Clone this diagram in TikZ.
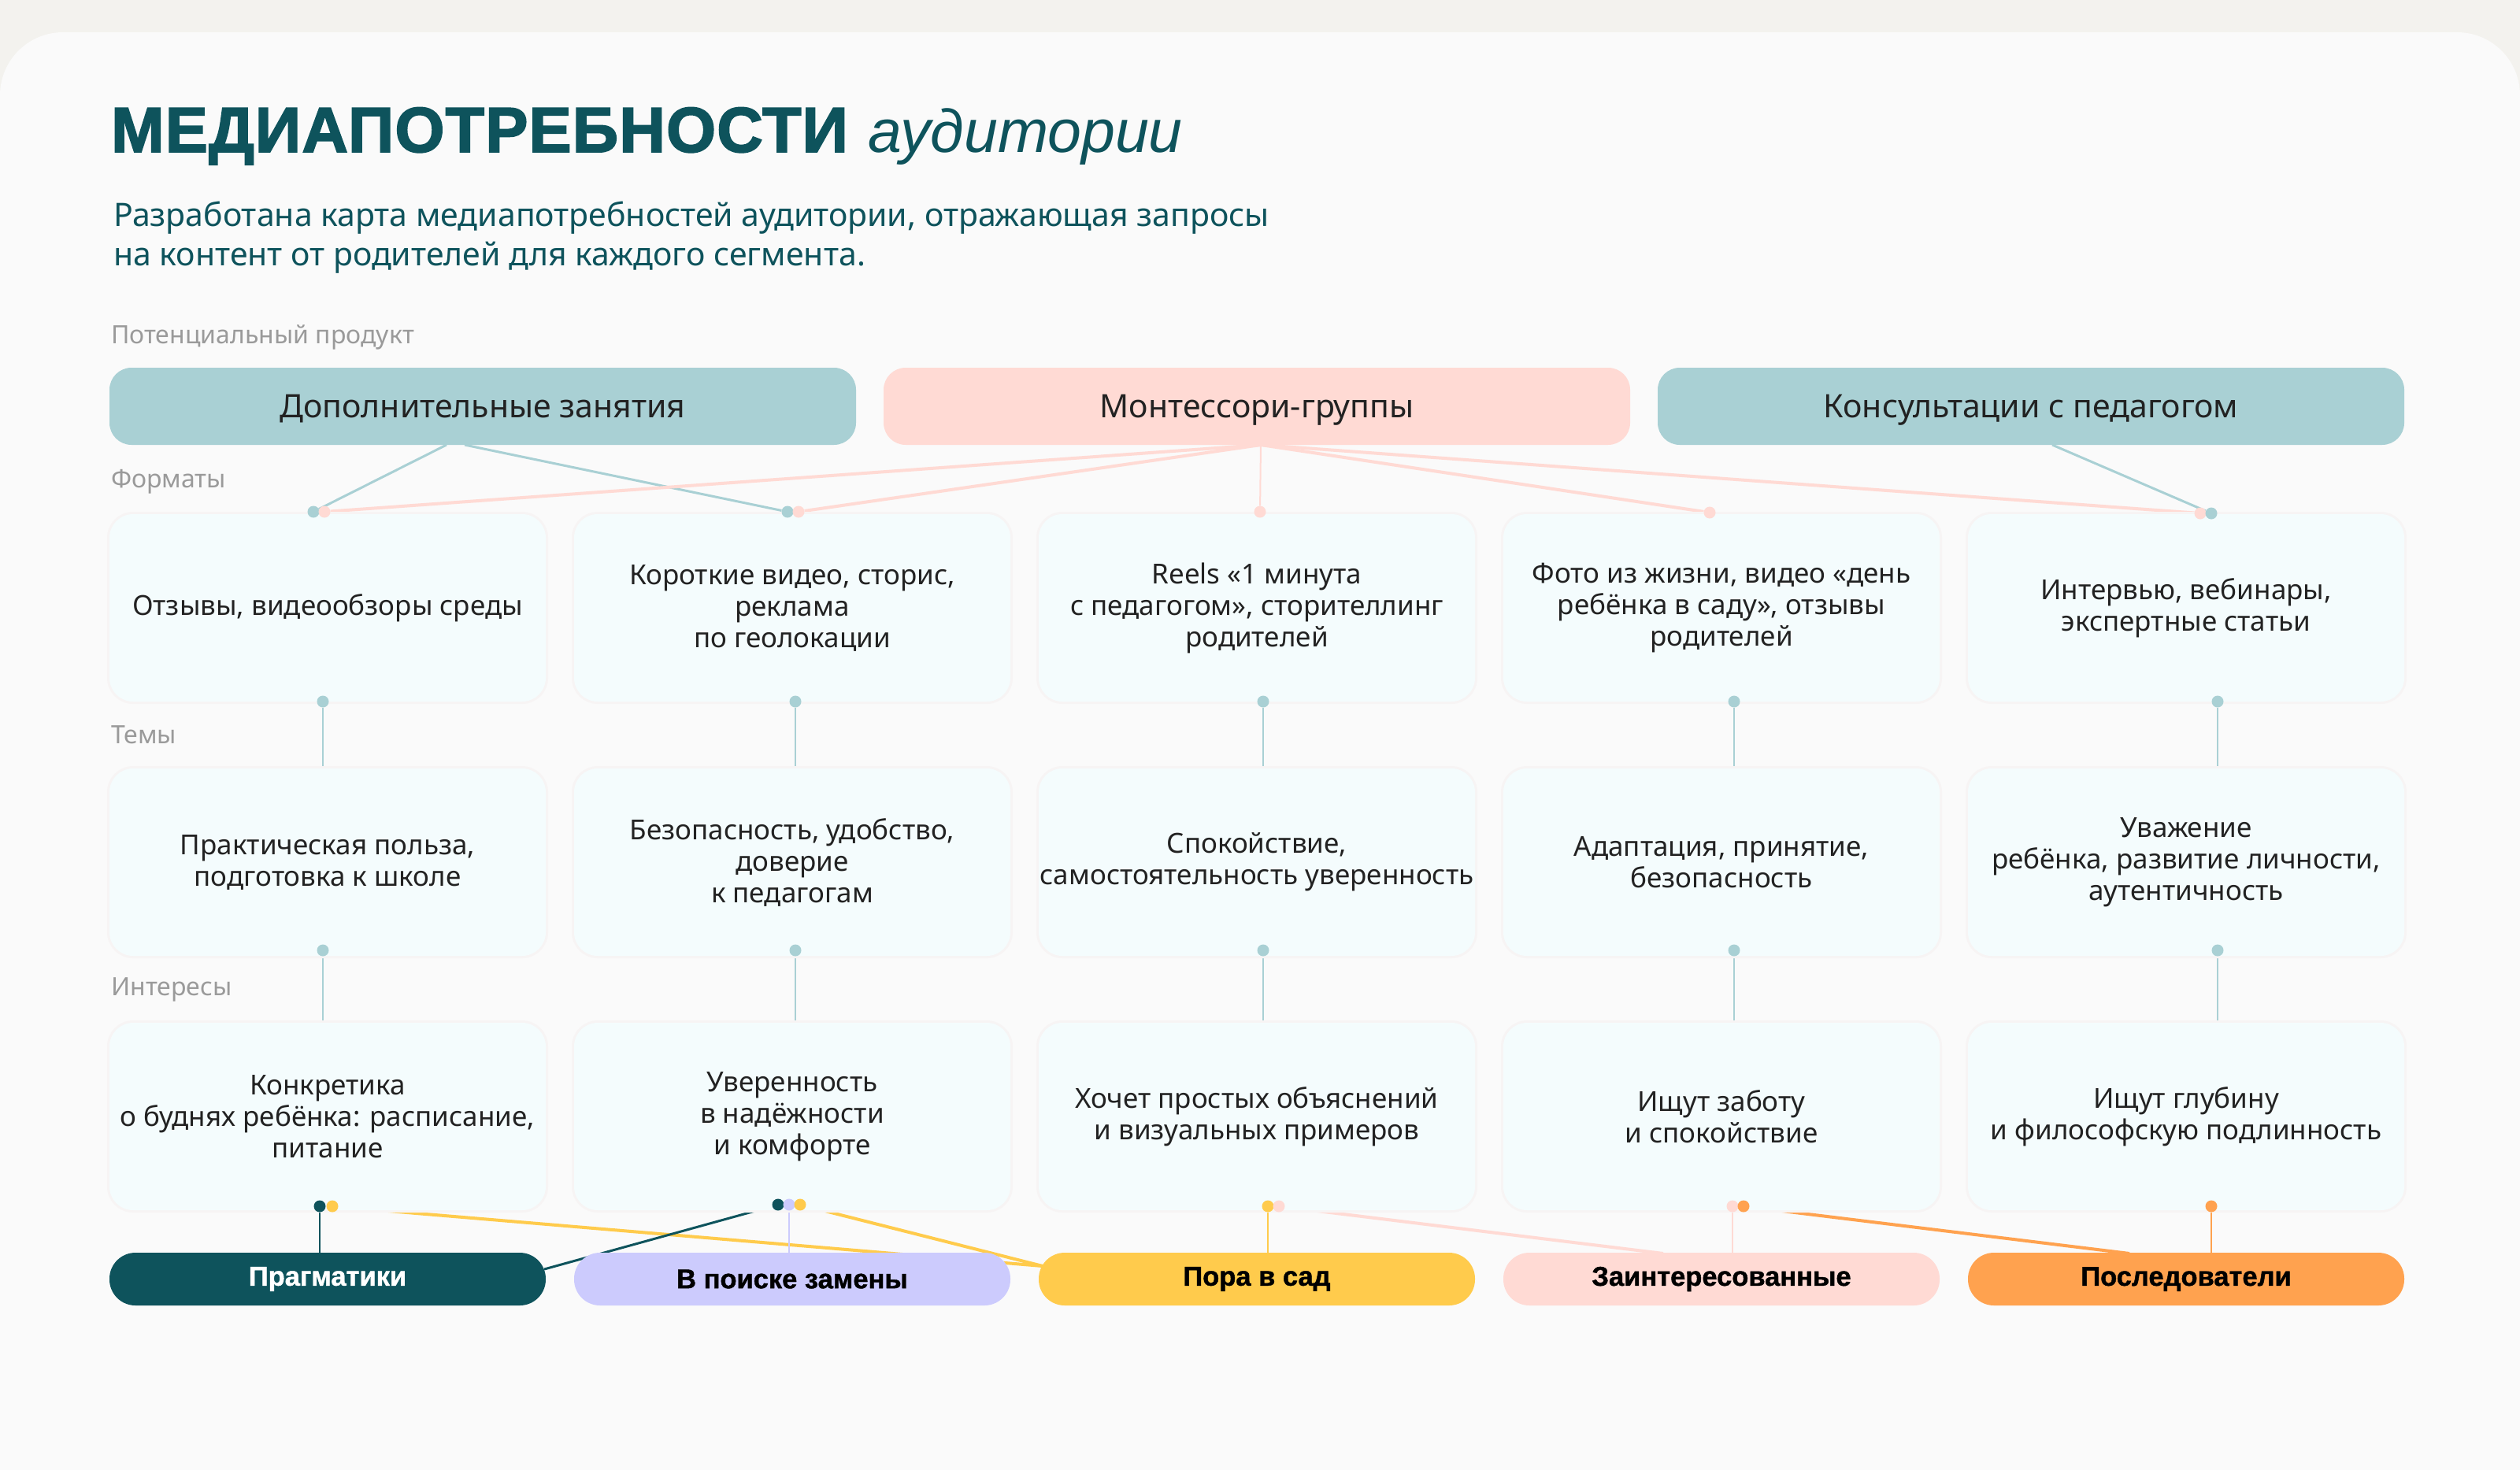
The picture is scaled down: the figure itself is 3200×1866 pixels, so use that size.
\documentclass[tikz,border=0pt]{standalone}
\usepackage{fontspec}
\setmainfont{Noto Sans}
\newfontfamily\hv{Liberation Sans}[BoldFeatures={FakeBold=1.2}]
\newfontfamily\hvt{Liberation Sans}[BoldFeatures={FakeBold=2.2,LetterSpace=1.5}]
\newfontfamily\hvi{Liberation Sans}
\usetikzlibrary{calc}
\definecolor{bgout}{HTML}{F3F2EE}
\definecolor{card}{HTML}{FAFAFA}
\definecolor{tealD}{HTML}{0E535C}
\definecolor{tealL}{HTML}{A9D0D4}
\definecolor{pinkL}{HTML}{FFDAD4}
\definecolor{lav}{HTML}{CCCBFD}
\definecolor{yel}{HTML}{FFCB4C}
\definecolor{ora}{HTML}{FFA24F}
\definecolor{boxc}{HTML}{F4FCFD}
\definecolor{glow}{HTML}{F7F4F4}
\definecolor{grayt}{HTML}{9A9A9A}
\definecolor{ink}{HTML}{222222}
\pgfdeclarelayer{bg}
\pgfsetlayers{bg,main}
\begin{document}
\begin{tikzpicture}[x=1pt,y=-1pt,
  prod/.style={rounded corners=28pt, minimum width=948pt, minimum height=98pt, inner sep=0pt, text height=29.3pt, text depth=0pt, font=\fontsize{41}{48}\selectfont, text=ink},
  cardbox/.style={fill=boxc, rounded corners=30pt, minimum width=554pt, minimum height=238pt, inner sep=0pt, align=center, font=\fontsize{35}{40}\selectfont, text=ink, preaction={draw=glow, line width=6pt}},
  pill/.style={rounded corners=33pt, minimum width=554pt, minimum height=67pt, inner sep=0pt, font=\hv\bfseries\fontsize{34.5}{40}\selectfont, text=black},
  lbl/.style={anchor=base west, inner sep=0pt, text=grayt, font=\fontsize{32}{36}\selectfont},
  dot/.style={circle, inner sep=0pt, minimum size=15pt, fill=#1},
  con/.style={draw=#1, line width=4pt},
  conm/.style={draw=#1, line width=3pt},
  vln/.style={draw=#1, line width=2pt}]
\useasboundingbox (0,0) rectangle (3200,1866);

% title and texts
\node[anchor=base west, inner sep=0pt, text=tealD, font=\fontsize{81}{90}\selectfont] (title) at (141,193) {{\hvt\bfseries МЕДИАПОТРЕБНОСТИ}\hspace{26pt}{\hvi\itshape\fontsize{77}{90}\selectfont аудитории}};
\node[anchor=base west, inner sep=0pt, text=tealD, font=\fontsize{41}{50}\selectfont] (sub1) at (144,287) {Разработана карта медиапотребностей аудитории, отражающая запросы};
\node[anchor=base west, inner sep=0pt, text=tealD, font=\fontsize{41}{50}\selectfont] (sub2) at (144,337) {на контент от родителей для каждого сегмента.};

\node[lbl] (l1) at (141,436) {Потенциальный продукт};
\node[lbl] (l2) at (141,619) {Форматы};
\node[lbl] (l3) at (141,944) {Темы};
\node[lbl] (l4) at (141,1264) {Интересы};

% products
\node[prod, fill=tealL] (p1) at (613,516) {Дополнительные занятия};
\node[prod, fill=pinkL] (p2) at (1596,516) {Монтессори-группы};
\node[prod, fill=tealL] (p3) at (2579,516) {Консультации с педагогом};

% formats
\node[cardbox] (f1) at (416,772) {Отзывы, видеообзоры среды};
\node[cardbox] (f2) at (1006,772) {Короткие видео, сторис,\\реклама\\по геолокации};
\node[cardbox] (f3) at (1596,772) {Reels «1 минута\\с педагогом», сторителлинг\\родителей};
\node[cardbox] (f4) at (2186,772) {Фото из жизни, видео «день\\ребёнка в саду», отзывы\\родителей};
\node[cardbox] (f5) at (2776,772) {Интервью, вебинары,\\экспертные статьи};

% themes
\node[cardbox] (t1) at (416,1095) {Практическая польза,\\подготовка к школе};
\node[cardbox] (t2) at (1006,1095) {Безопасность, удобство,\\доверие\\к педагогам};
\node[cardbox] (t3) at (1596,1095) {Спокойствие,\\самостоятельность уверенность};
\node[cardbox] (t4) at (2186,1095) {Адаптация, принятие,\\безопасность};
\node[cardbox] (t5) at (2776,1095) {Уважение\\ребёнка, развитие личности,\\аутентичность};

% interests
\node[cardbox] (i1) at (416,1418) {Конкретика\\о буднях ребёнка: расписание,\\питание};
\node[cardbox] (i2) at (1006,1418) {Уверенность\\в надёжности\\и комфорте};
\node[cardbox] (i3) at (1596,1418) {Хочет простых объяснений\\и визуальных примеров};
\node[cardbox] (i4) at (2186,1418) {Ищут заботу\\и спокойствие};
\node[cardbox] (i5) at (2776,1418) {Ищут глубину\\и философскую подлинность};

% segments
\node[pill, fill=tealD, text=white] (s1) at (416,1624.5) {Прагматики};
\node[pill, fill=lav] (s2) at (1006,1624.5) {В поиске замены};
\node[pill, fill=yel] (s3) at (1596,1624.5) {Пора в сад};
\node[pill, fill=pinkL] (s4) at (2186,1624.5) {Заинтересованные};
\node[pill, fill=ora] (s5) at (2776,1624.5) {Последователи};

% dots: top of formats
\node[dot=tealL] (a1t) at (398,650) {};
\node[dot=pinkL] (a1p) at (412,650) {};
\node[dot=tealL] (a2t) at (1000,650) {};
\node[dot=pinkL] (a2p) at (1014,650) {};
\node[dot=pinkL] (a3p) at (1600,650) {};
\node[dot=pinkL] (a4p) at (2171,651) {};
\node[dot=pinkL] (a5p) at (2794,652) {};
\node[dot=tealL] (a5t) at (2808,652) {};

% dots: bottom of formats and themes
\foreach \k/\xx in {1/410,2/1010,3/1604,4/2202,5/2816}{
  \node[dot=tealL] (b\k) at (\xx,891) {};
  \node[dot=tealL] (c\k) at (\xx,1207) {};
}

% dots: bottom of interests
\node[dot=tealD] (d1k) at (406,1532) {};
\node[dot=yel] (d1y) at (422,1532) {};
\node[dot=tealD] (d2k) at (988,1530) {};
\node[dot=lav] (d2l) at (1002,1530) {};
\node[dot=yel] (d2y) at (1016,1530) {};
\node[dot=yel] (d3y) at (1610,1532) {};
\node[dot=pinkL] (d3p) at (1624,1532) {};
\node[dot=pinkL] (d4p) at (2200,1532) {};
\node[dot=ora] (d4o) at (2214,1532) {};
\node[dot=ora] (d5o) at (2808,1532) {};

% connector anchor coordinates
\coordinate (p1a) at (567,565);
\coordinate (p1b) at (590,565);
\coordinate (p2a) at (1601,565);
\coordinate (p3a) at (2606,565);
\coordinate (s1e) at (691,1612);
\coordinate (s3w) at (1324,1608);
\coordinate (s4n) at (2112,1592);
\coordinate (s5n) at (2704,1592);

\begin{pgfonlayer}{bg}
\fill[bgout] (0,0) rectangle (3200,1866);
\fill[card, rounded corners=80pt] (0,41) rectangle (3200,1966);
% product -> formats
\draw[conm=tealL] (p1a) -- (a1t);
\draw[conm=tealL] (p1b) -- (a2t);
\draw[conm=tealL] (p3a) -- (a5t);
\draw[con=pinkL] (p2a) -- (a1p);
\draw[con=pinkL] (p2a) -- (a2p);
\draw[vln=pinkL] (p2a) -- (a3p);
\draw[con=pinkL] (p2a) -- (a4p);
\draw[con=pinkL] (p2a) -- (a5p);
% formats -> themes -> interests
\foreach \k in {1,...,5}{
  \draw[vln=tealL] (b\k) -- (b\k |- t\k.north);
  \draw[vln=tealL] (c\k) -- (c\k |- i\k.north);
}
% interests -> segments
\draw[vln=tealD] (d1k) -- (d1k |- s1.north);
\draw[con=yel] (d1y) -- (s3w);
\draw[conm=tealD] (d2k) -- (s1e);
\draw[vln=lav] (d2l) -- (d2l |- s2.north);
\draw[con=yel] (d2y) -- (s3w);
\draw[vln=yel] (d3y) -- (d3y |- s3.north);
\draw[con=pinkL] (d3p) -- (s4n);
\draw[vln=pinkL] (d4p) -- (d4p |- s4.north);
\draw[con=ora] (d4o) -- (s5n);
\draw[vln=ora] (d5o) -- (d5o |- s5.north);
\end{pgfonlayer}
\end{tikzpicture}
\end{document}
